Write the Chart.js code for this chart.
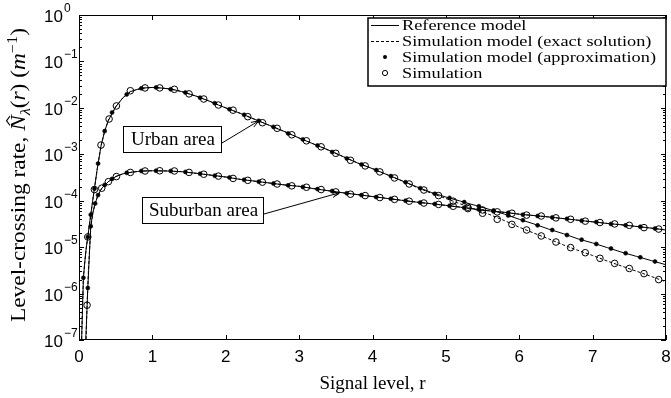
<!DOCTYPE html>
<html>
<head>
<meta charset="utf-8">
<script src="https://cdn.jsdelivr.net/npm/chart.js@4.4.0/dist/chart.umd.min.js"></script>
<style>
    html, body { margin: 0; padding: 0; background: #fff; }
    #wrap { width: 671px; height: 398px; }
</style>
</head>
<body>
<div id="wrap"><canvas id="lcrChart" width="671" height="398" style="width:671px;height:398px"></canvas></div>
<script>
// Level-crossing rate (m^-1) against signal level r

// urban area, curves
const urbanLineR = [0.03, 0.06, 0.08, 0.1, 0.12, 0.16, 0.2, 0.25, 0.3, 0.35, 0.4,
    0.5, 0.6, 0.7, 0.8, 0.9, 1.0, 1.1, 1.2, 1.3, 1.4, 1.5, 1.6, 1.7, 1.8, 1.9, 2.0,
    2.2, 2.4, 2.6, 2.8, 3.0, 3.2, 3.4, 3.6, 3.8, 4.0, 4.2, 4.4, 4.6, 4.8, 5.0,
    5.2, 5.4, 5.6, 5.8, 6.0, 6.2, 6.4, 6.6, 6.8, 7.0, 7.2, 7.4, 7.6, 7.8, 8.0];
const urbanRefV = [5.0e-8, 2.19e-6, 5.0e-6, 1.0e-5, 1.66e-5, 5.0e-5, 1.41e-4, 5.0e-4, 1.51e-3, 3.16e-3, 5.37e-3,
    1.05e-2, 1.66e-2, 2.24e-2, 2.51e-2, 2.69e-2, 2.75e-2, 2.69e-2, 2.60e-2, 2.45e-2, 2.24e-2, 2.00e-2, 1.78e-2, 1.55e-2, 1.35e-2, 1.15e-2, 1.00e-2,
    7.59e-3, 5.62e-3, 4.17e-3, 3.09e-3, 2.24e-3, 1.66e-3, 1.23e-3, 8.91e-4, 6.46e-4, 4.90e-4, 3.63e-4, 2.69e-4, 2.00e-4, 1.51e-4, 1.20e-4,
    9.77e-5, 7.94e-5, 6.46e-5, 5.13e-5, 3.98e-5, 3.16e-5, 2.45e-5, 1.95e-5, 1.51e-5, 1.23e-5, 9.77e-6, 7.76e-6, 6.31e-6, 5.13e-6, 4.17e-6];
const urbanExactV = [5.0e-8, 2.19e-6, 5.0e-6, 1.0e-5, 1.66e-5, 5.0e-5, 1.41e-4, 5.0e-4, 1.51e-3, 3.16e-3, 5.37e-3,
    1.05e-2, 1.66e-2, 2.24e-2, 2.51e-2, 2.69e-2, 2.75e-2, 2.69e-2, 2.60e-2, 2.45e-2, 2.24e-2, 2.00e-2, 1.78e-2, 1.55e-2, 1.35e-2, 1.15e-2, 1.00e-2,
    7.59e-3, 5.62e-3, 4.17e-3, 3.09e-3, 2.24e-3, 1.66e-3, 1.23e-3, 8.91e-4, 6.46e-4, 4.90e-4, 3.63e-4, 2.69e-4, 1.95e-4, 1.45e-4, 1.12e-4,
    8.51e-5, 6.46e-5, 5.01e-5, 3.72e-5, 2.69e-5, 2.00e-5, 1.51e-5, 1.12e-5, 8.51e-6, 6.61e-6, 5.01e-6, 3.89e-6, 3.02e-6, 2.34e-6, 1.78e-6];

// urban area, markers
const urbanApproxR = [0.06, 0.12, 0.16, 0.21, 0.26, 0.35, 0.45,
    0.65, 0.85, 1.05, 1.25, 1.45, 1.65, 1.85, 2.05, 2.25, 2.45, 2.65, 2.85, 3.05, 3.25, 3.45, 3.65, 3.85, 4.05, 4.25, 4.45,
    4.65, 4.85, 5.05, 5.25, 5.45, 5.65, 5.85, 6.05, 6.25, 6.45, 6.65, 6.85, 7.05, 7.25, 7.45, 7.65, 7.85];
const urbanApproxV = [2.19e-6, 1.66e-5, 5.0e-5, 1.82e-4, 6.31e-4, 3.16e-3, 7.94e-3,
    1.95e-2, 2.63e-2, 2.75e-2, 2.51e-2, 2.14e-2, 1.66e-2, 1.26e-2, 9.33e-3, 7.08e-3, 5.25e-3, 3.89e-3, 2.82e-3, 2.09e-3, 1.55e-3, 1.12e-3, 8.13e-4, 6.03e-4, 4.57e-4, 3.39e-4, 2.51e-4,
    1.86e-4, 1.41e-4, 1.15e-4, 9.33e-5, 7.59e-5, 6.17e-5, 4.79e-5, 3.80e-5, 2.95e-5, 2.34e-5, 1.82e-5, 1.45e-5, 1.17e-5, 9.33e-6, 7.41e-6, 6.03e-6, 4.90e-6];
const urbanSimR = [0.12, 0.21, 0.3, 0.41, 0.51,
    0.7, 0.9, 1.1, 1.3, 1.5, 1.7, 1.9, 2.1, 2.3, 2.5, 2.7, 2.9, 3.1, 3.3, 3.5, 3.7, 3.9, 4.1, 4.3, 4.5,
    4.7, 4.9, 5.1, 5.3, 5.5, 5.7, 5.9, 6.1, 6.3, 6.5, 6.7, 6.9, 7.1, 7.3, 7.5, 7.7, 7.9];
const urbanSimV = [1.66e-5, 1.74e-4, 1.58e-3, 5.75e-3, 1.10e-2,
    2.34e-2, 2.69e-2, 2.69e-2, 2.51e-2, 2.00e-2, 1.55e-2, 1.15e-2, 8.91e-3, 6.46e-3, 4.79e-3, 3.63e-3, 2.63e-3, 1.95e-3, 1.45e-3, 1.05e-3, 7.41e-4, 5.62e-4, 4.17e-4, 3.09e-4, 2.29e-4,
    1.70e-4, 1.29e-4, 9.77e-5, 7.24e-5, 5.37e-5, 3.98e-5, 3.09e-5, 2.34e-5, 1.74e-5, 1.29e-5, 9.77e-6, 7.59e-6, 5.75e-6, 4.47e-6, 3.47e-6, 2.69e-6, 2.00e-6];

// suburban area, curves
const suburbRefR = [0.085, 0.12, 0.16, 0.19, 0.22, 0.26, 0.31, 0.4, 0.5, 0.6, 0.7, 0.8, 0.9,
    1.0, 1.2, 1.4, 1.6, 1.8, 2.0, 2.2, 2.4, 2.6, 2.8, 3.0, 3.2, 3.4, 3.6, 3.8, 4.0, 4.2, 4.4,
    4.6, 4.8, 5.0, 5.2, 5.4, 5.6, 5.8, 6.0, 6.2, 6.4, 6.6, 6.8, 7.0, 7.2, 7.4, 7.6, 7.8, 8.0];
const suburbRefV = [5.0e-8, 1.32e-6, 2.82e-5, 5.62e-5, 8.71e-5, 1.32e-4, 1.86e-4, 2.57e-4, 3.31e-4, 3.80e-4, 4.07e-4, 4.27e-4, 4.37e-4,
    4.42e-4, 4.37e-4, 4.22e-4, 3.89e-4, 3.55e-4, 3.24e-4, 2.88e-4, 2.63e-4, 2.40e-4, 2.19e-4, 2.04e-4, 1.82e-4, 1.64e-4, 1.48e-4, 1.35e-4, 1.23e-4, 1.12e-4, 1.02e-4,
    9.33e-5, 8.61e-5, 7.94e-5, 7.24e-5, 6.61e-5, 6.03e-5, 5.62e-5, 5.13e-5, 4.79e-5, 4.47e-5, 4.12e-5, 3.80e-5, 3.51e-5, 3.24e-5, 3.02e-5, 2.79e-5, 2.57e-5, 2.34e-5];
const suburbExactR = [0.09, 0.11, 0.13, 0.16, 0.19, 0.22, 0.26, 0.31, 0.4, 0.5, 0.6, 0.7, 0.8, 0.9,
    1.0, 1.2, 1.4, 1.6, 1.8, 2.0, 2.2, 2.4, 2.6, 2.8, 3.0, 3.2, 3.4, 3.6, 3.8, 4.0, 4.2, 4.4,
    4.6, 4.8, 5.0, 5.2, 5.4, 5.6, 5.8, 6.0, 6.2, 6.4, 6.6, 6.8, 7.0, 7.2, 7.4, 7.6, 7.8, 8.0];
const suburbExactV = [5.0e-8, 5.62e-7, 3.55e-6, 2.51e-5, 5.62e-5, 8.71e-5, 1.32e-4, 1.86e-4, 2.57e-4, 3.31e-4, 3.80e-4, 4.07e-4, 4.27e-4, 4.37e-4,
    4.42e-4, 4.37e-4, 4.22e-4, 3.89e-4, 3.55e-4, 3.24e-4, 2.88e-4, 2.63e-4, 2.40e-4, 2.19e-4, 2.04e-4, 1.82e-4, 1.64e-4, 1.48e-4, 1.35e-4, 1.23e-4, 1.12e-4, 1.02e-4,
    9.33e-5, 8.61e-5, 7.94e-5, 7.24e-5, 6.61e-5, 6.03e-5, 5.62e-5, 5.13e-5, 4.79e-5, 4.47e-5, 4.12e-5, 3.80e-5, 3.51e-5, 3.24e-5, 3.02e-5, 2.79e-5, 2.57e-5, 2.34e-5];

// suburban area, markers
const suburbApproxR = [0.12, 0.16, 0.22, 0.26, 0.35, 0.45,
    0.65, 0.85, 1.05, 1.25, 1.45, 1.65, 1.85, 2.05, 2.25, 2.45, 2.65, 2.85, 3.05, 3.25, 3.45, 3.65, 3.85, 4.05, 4.25, 4.45,
    4.65, 4.85, 5.05, 5.25, 5.45, 5.65, 5.85, 6.05, 6.25, 6.45, 6.65, 6.85, 7.05, 7.25, 7.45, 7.65, 7.85];
const suburbApproxV = [1.32e-6, 2.82e-5, 8.71e-5, 1.32e-4, 2.19e-4, 2.95e-4,
    3.98e-4, 4.37e-4, 4.42e-4, 4.37e-4, 4.17e-4, 3.80e-4, 3.47e-4, 3.16e-4, 2.82e-4, 2.57e-4, 2.34e-4, 2.14e-4, 1.98e-4, 1.78e-4, 1.62e-4, 1.45e-4, 1.32e-4, 1.20e-4, 1.10e-4, 1.00e-4,
    9.12e-5, 8.51e-5, 7.76e-5, 7.08e-5, 6.46e-5, 5.89e-5, 5.50e-5, 5.01e-5, 4.68e-5, 4.37e-5, 4.07e-5, 3.72e-5, 3.47e-5, 3.16e-5, 2.95e-5, 2.75e-5, 2.51e-5];
const suburbSimR = [0.11, 0.31, 0.4, 0.51,
    0.7, 0.9, 1.1, 1.3, 1.5, 1.7, 1.9, 2.1, 2.3, 2.5, 2.7, 2.9, 3.1, 3.3, 3.5, 3.7, 3.9, 4.1, 4.3, 4.5,
    4.7, 4.9, 5.1, 5.3, 5.5, 5.7, 5.9, 6.1, 6.3, 6.5, 6.7, 6.9, 7.1, 7.3, 7.5, 7.7, 7.9];
const suburbSimV = [5.62e-7, 1.86e-4, 2.57e-4, 3.31e-4,
    4.07e-4, 4.37e-4, 4.42e-4, 4.37e-4, 4.07e-4, 3.72e-4, 3.39e-4, 3.02e-4, 2.75e-4, 2.51e-4, 2.29e-4, 2.09e-4, 1.95e-4, 1.74e-4, 1.55e-4, 1.38e-4, 1.29e-4, 1.17e-4, 1.07e-4, 9.77e-5,
    8.91e-5, 8.32e-5, 7.59e-5, 6.76e-5, 6.31e-5, 5.75e-5, 5.37e-5, 4.90e-5, 4.68e-5, 4.27e-5, 3.98e-5, 3.63e-5, 3.39e-5, 3.16e-5, 2.95e-5, 2.63e-5, 2.45e-5];

// axis ticks and labels
const yDecades = [0, -1, -2, -3, -4, -5, -6, -7];
const legendLabels = ['Reference model', 'Simulation model (exact solution)', 'Simulation model (approximation)', 'Simulation'];
const areaLabels = ['Urban area', 'Suburban area'];
// where each area arrow points (r, value)
const areaTargetR = [2.45, 3.55];
const areaTargetV = [5.25e-3, 1.48e-4];

const SERIF = '"Liberation Serif", "Times New Roman", serif';
const SANS = '"Liberation Sans", Arial, sans-serif';

document.addEventListener('DOMContentLoaded', () => {
    renderChart();
});

function toPoints(rs, vs) {
    return rs.map((r, i) => ({ x: r, y: vs[i] }));
}

function lineSet(label, rs, vs, dashed) {
    return {
        label: label,
        data: toPoints(rs, vs),
        borderColor: '#000',
        borderWidth: 1,
        borderDash: dashed ? [3, 2] : [],
        pointRadius: 0,
        fill: false,
        tension: 0
    };
}

function markerSet(label, rs, vs, filled) {
    return {
        label: label,
        data: toPoints(rs, vs),
        showLine: false,
        pointStyle: 'circle',
        pointRadius: filled ? 2 : 3.3,
        pointBorderWidth: filled ? 0.6 : 1,
        pointBorderColor: '#000',
        pointBackgroundColor: filled ? '#000' : 'rgba(0,0,0,0)'
    };
}

function drawFrame(ctx, chart) {
    const a = chart.chartArea;
    const x = chart.scales.x;
    const y = chart.scales.y;
    ctx.save();
    ctx.strokeStyle = '#000';
    ctx.lineWidth = 1;
    ctx.strokeRect(a.left + 0.5, a.top + 0.5, a.right - a.left - 1, a.bottom - a.top - 1);

    ctx.beginPath();
    x.ticks.forEach(t => {
        const px = Math.round(x.getPixelForValue(t.value)) + 0.5;
        ctx.moveTo(px, a.bottom); ctx.lineTo(px, a.bottom - 5);
        ctx.moveTo(px, a.top); ctx.lineTo(px, a.top + 5);
    });
    yDecades.forEach(e => {
        const py = Math.round(y.getPixelForValue(Math.pow(10, e))) + 0.5;
        ctx.moveTo(a.left, py); ctx.lineTo(a.left + 5, py);
        ctx.moveTo(a.right, py); ctx.lineTo(a.right - 5, py);
    });
    // minor ticks on the log axis
    yDecades.slice(1).forEach(e => {
        for (let m = 2; m <= 9; m++) {
            const py = Math.round(y.getPixelForValue(m * Math.pow(10, e))) + 0.5;
            ctx.moveTo(a.left, py); ctx.lineTo(a.left + 3, py);
            ctx.moveTo(a.right, py); ctx.lineTo(a.right - 3, py);
        }
    });
    ctx.stroke();

    // y tick labels 10^n
    yDecades.forEach(e => {
        const py = y.getPixelForValue(Math.pow(10, e));
        ctx.fillStyle = '#000';
        ctx.textBaseline = 'alphabetic';
        ctx.font = '17px ' + SANS;
        ctx.textAlign = 'right';
        ctx.fillText('10', 63, py + 7);
        ctx.font = '12px ' + SANS;
        ctx.textAlign = 'left';
        ctx.fillText(e === 0 ? '0' : '\u2212' + (-e), 64, py - 3);
    });
    ctx.restore();
}

function drawTitles(ctx, chart) {
    const a = chart.chartArea;
    ctx.save();
    ctx.fillStyle = '#000';
    ctx.font = '19px ' + SERIF;
    ctx.textAlign = 'center';
    ctx.textBaseline = 'alphabetic';
    ctx.fillText('Signal level, r', (a.left + a.right) / 2, 389);
    ctx.restore();

    const pieces = [
        { t: 'Level-crossing rate, ', f: '20px ' + SERIF, dy: 0 },
        { t: 'N', f: 'italic 20px ' + SERIF, dy: 0, hat: true },
        { t: '\u03bb', f: 'italic 14px ' + SERIF, dy: 5 },
        { t: '(', f: '20px ' + SERIF, dy: 0 },
        { t: 'r', f: 'italic 20px ' + SERIF, dy: 0 },
        { t: ') (', f: '20px ' + SERIF, dy: 0 },
        { t: 'm', f: 'italic 20px ' + SERIF, dy: 0 },
        { t: '\u22121', f: '14px ' + SERIF, dy: -8 },
        { t: ')', f: '20px ' + SERIF, dy: 0 }
    ];
    let total = 0;
    pieces.forEach(p => { ctx.font = p.f; p.w = ctx.measureText(p.t).width; total += p.w; });
    ctx.save();
    ctx.translate(25, 175);
    ctx.rotate(-Math.PI / 2);
    ctx.scale(294 / total, 1);
    ctx.fillStyle = '#000';
    ctx.strokeStyle = '#000';
    ctx.textBaseline = 'alphabetic';
    let pos = -total / 2;
    pieces.forEach(p => {
        ctx.font = p.f;
        ctx.textAlign = 'left';
        ctx.fillText(p.t, pos, p.dy);
        if (p.hat) {
            // circumflex over the italic N
            const cx = pos + p.w / 2 + 2;
            ctx.lineWidth = 1;
            ctx.beginPath();
            ctx.moveTo(cx - 4, -15);
            ctx.lineTo(cx, -18.5);
            ctx.lineTo(cx + 4, -15);
            ctx.stroke();
        }
        pos += p.w;
    });
    ctx.restore();
}

function drawLegend(ctx) {
    const box = { left: 368, top: 18, right: 666, bottom: 86 };
    ctx.save();
    ctx.fillStyle = '#fff';
    ctx.fillRect(box.left, box.top, box.right - box.left, box.bottom - box.top);
    ctx.strokeStyle = '#000';
    ctx.lineWidth = 1.5;
    ctx.strokeRect(box.left, box.top, box.right - box.left, box.bottom - box.top);

    ctx.font = '15px ' + SERIF;
    const sx = 254 / ctx.measureText(legendLabels[2]).width;
    legendLabels.forEach((label, i) => {
        const base = 30 + i * 16;
        const mid = base - 5;
        ctx.lineWidth = 1;
        ctx.strokeStyle = '#000';
        ctx.fillStyle = '#000';
        if (i === 0 || i === 1) {
            ctx.setLineDash(i === 1 ? [3, 2] : []);
            ctx.beginPath();
            ctx.moveTo(371, mid + 0.5);
            ctx.lineTo(399, mid + 0.5);
            ctx.stroke();
            ctx.setLineDash([]);
        } else if (i === 2) {
            ctx.beginPath();
            ctx.arc(385, mid, 2, 0, Math.PI * 2);
            ctx.fill();
        } else {
            ctx.beginPath();
            ctx.arc(385, mid, 2.6, 0, Math.PI * 2);
            ctx.stroke();
        }
        ctx.save();
        ctx.translate(402, base);
        ctx.scale(sx, 1);
        ctx.font = '15px ' + SERIF;
        ctx.textAlign = 'left';
        ctx.textBaseline = 'alphabetic';
        ctx.fillText(label, 0, 0);
        ctx.restore();
    });
    ctx.restore();
}

function drawAreaNotes(ctx, chart) {
    const x = chart.scales.x;
    const y = chart.scales.y;
    const boxes = [
        { left: 123, top: 126, right: 221, bottom: 152 },
        { left: 142, top: 197, right: 263, bottom: 223 }
    ];
    ctx.save();
    areaLabels.forEach((text, i) => {
        const b = boxes[i];
        ctx.fillStyle = '#fff';
        ctx.fillRect(b.left, b.top, b.right - b.left, b.bottom - b.top);
        ctx.strokeStyle = '#000';
        ctx.lineWidth = 1;
        ctx.strokeRect(b.left + 0.5, b.top + 0.5, b.right - b.left, b.bottom - b.top);
        ctx.fillStyle = '#000';
        ctx.font = '19px ' + SERIF;
        ctx.textAlign = 'center';
        ctx.textBaseline = 'alphabetic';
        ctx.fillText(text, (b.left + b.right) / 2 + 1, b.bottom - 7);

        // arrow from the box to the curve
        const x0 = b.right + 1;
        const y0 = (b.top + b.bottom) / 2 + 4;
        const x1 = x.getPixelForValue(areaTargetR[i]);
        const y1 = y.getPixelForValue(areaTargetV[i]);
        const ang = Math.atan2(y1 - y0, x1 - x0);
        ctx.beginPath();
        ctx.moveTo(x0, y0);
        ctx.lineTo(x1, y1);
        ctx.moveTo(x1 - 8 * Math.cos(ang - 0.35), y1 - 8 * Math.sin(ang - 0.35));
        ctx.lineTo(x1, y1);
        ctx.lineTo(x1 - 8 * Math.cos(ang + 0.35), y1 - 8 * Math.sin(ang + 0.35));
        ctx.stroke();
    });
    ctx.restore();
}

const decorations = {
    id: 'decorations',
    afterDatasetsDraw(chart) {
        const ctx = chart.ctx;
        drawFrame(ctx, chart);
        drawTitles(ctx, chart);
        drawAreaNotes(ctx, chart);
        drawLegend(ctx);
    }
};

function renderChart() {
    const ctx = document.getElementById('lcrChart').getContext('2d');

    new Chart(ctx, {
        type: 'line',
        data: {
            datasets: [
                markerSet('Simulation (urban)', urbanSimR, urbanSimV, false),
                markerSet('Simulation (suburban)', suburbSimR, suburbSimV, false),
                markerSet('Approximation (urban)', urbanApproxR, urbanApproxV, true),
                markerSet('Approximation (suburban)', suburbApproxR, suburbApproxV, true),
                lineSet('Reference model (urban)', urbanLineR, urbanRefV, false),
                lineSet('Exact solution (urban)', urbanLineR, urbanExactV, true),
                lineSet('Reference model (suburban)', suburbRefR, suburbRefV, false),
                lineSet('Exact solution (suburban)', suburbExactR, suburbExactV, true)
            ]
        },
        options: {
            responsive: false,
            animation: false,
            events: [],
            layout: { padding: { top: 15, right: 1, left: 0, bottom: 0 } },
            plugins: {
                legend: { display: false },
                tooltip: { enabled: false }
            },
            scales: {
                x: {
                    type: 'linear',
                    min: 0,
                    max: 8,
                    ticks: {
                        stepSize: 1,
                        color: '#000',
                        padding: 7,
                        maxRotation: 0,
                        font: { family: SANS, size: 17 }
                    },
                    grid: { display: false, drawTicks: false },
                    border: { display: false },
                    afterFit(scale) {
                        scale.height = 58;
                        scale.paddingLeft = 0;
                        scale.paddingRight = 0;
                    }
                },
                y: {
                    type: 'logarithmic',
                    min: 1e-7,
                    max: 1,
                    ticks: { display: false },
                    grid: { display: false, drawTicks: false },
                    border: { display: false },
                    afterFit(scale) {
                        scale.width = 79;
                    }
                }
            }
        },
        plugins: [decorations]
    });
}
</script>
</body>
</html>
